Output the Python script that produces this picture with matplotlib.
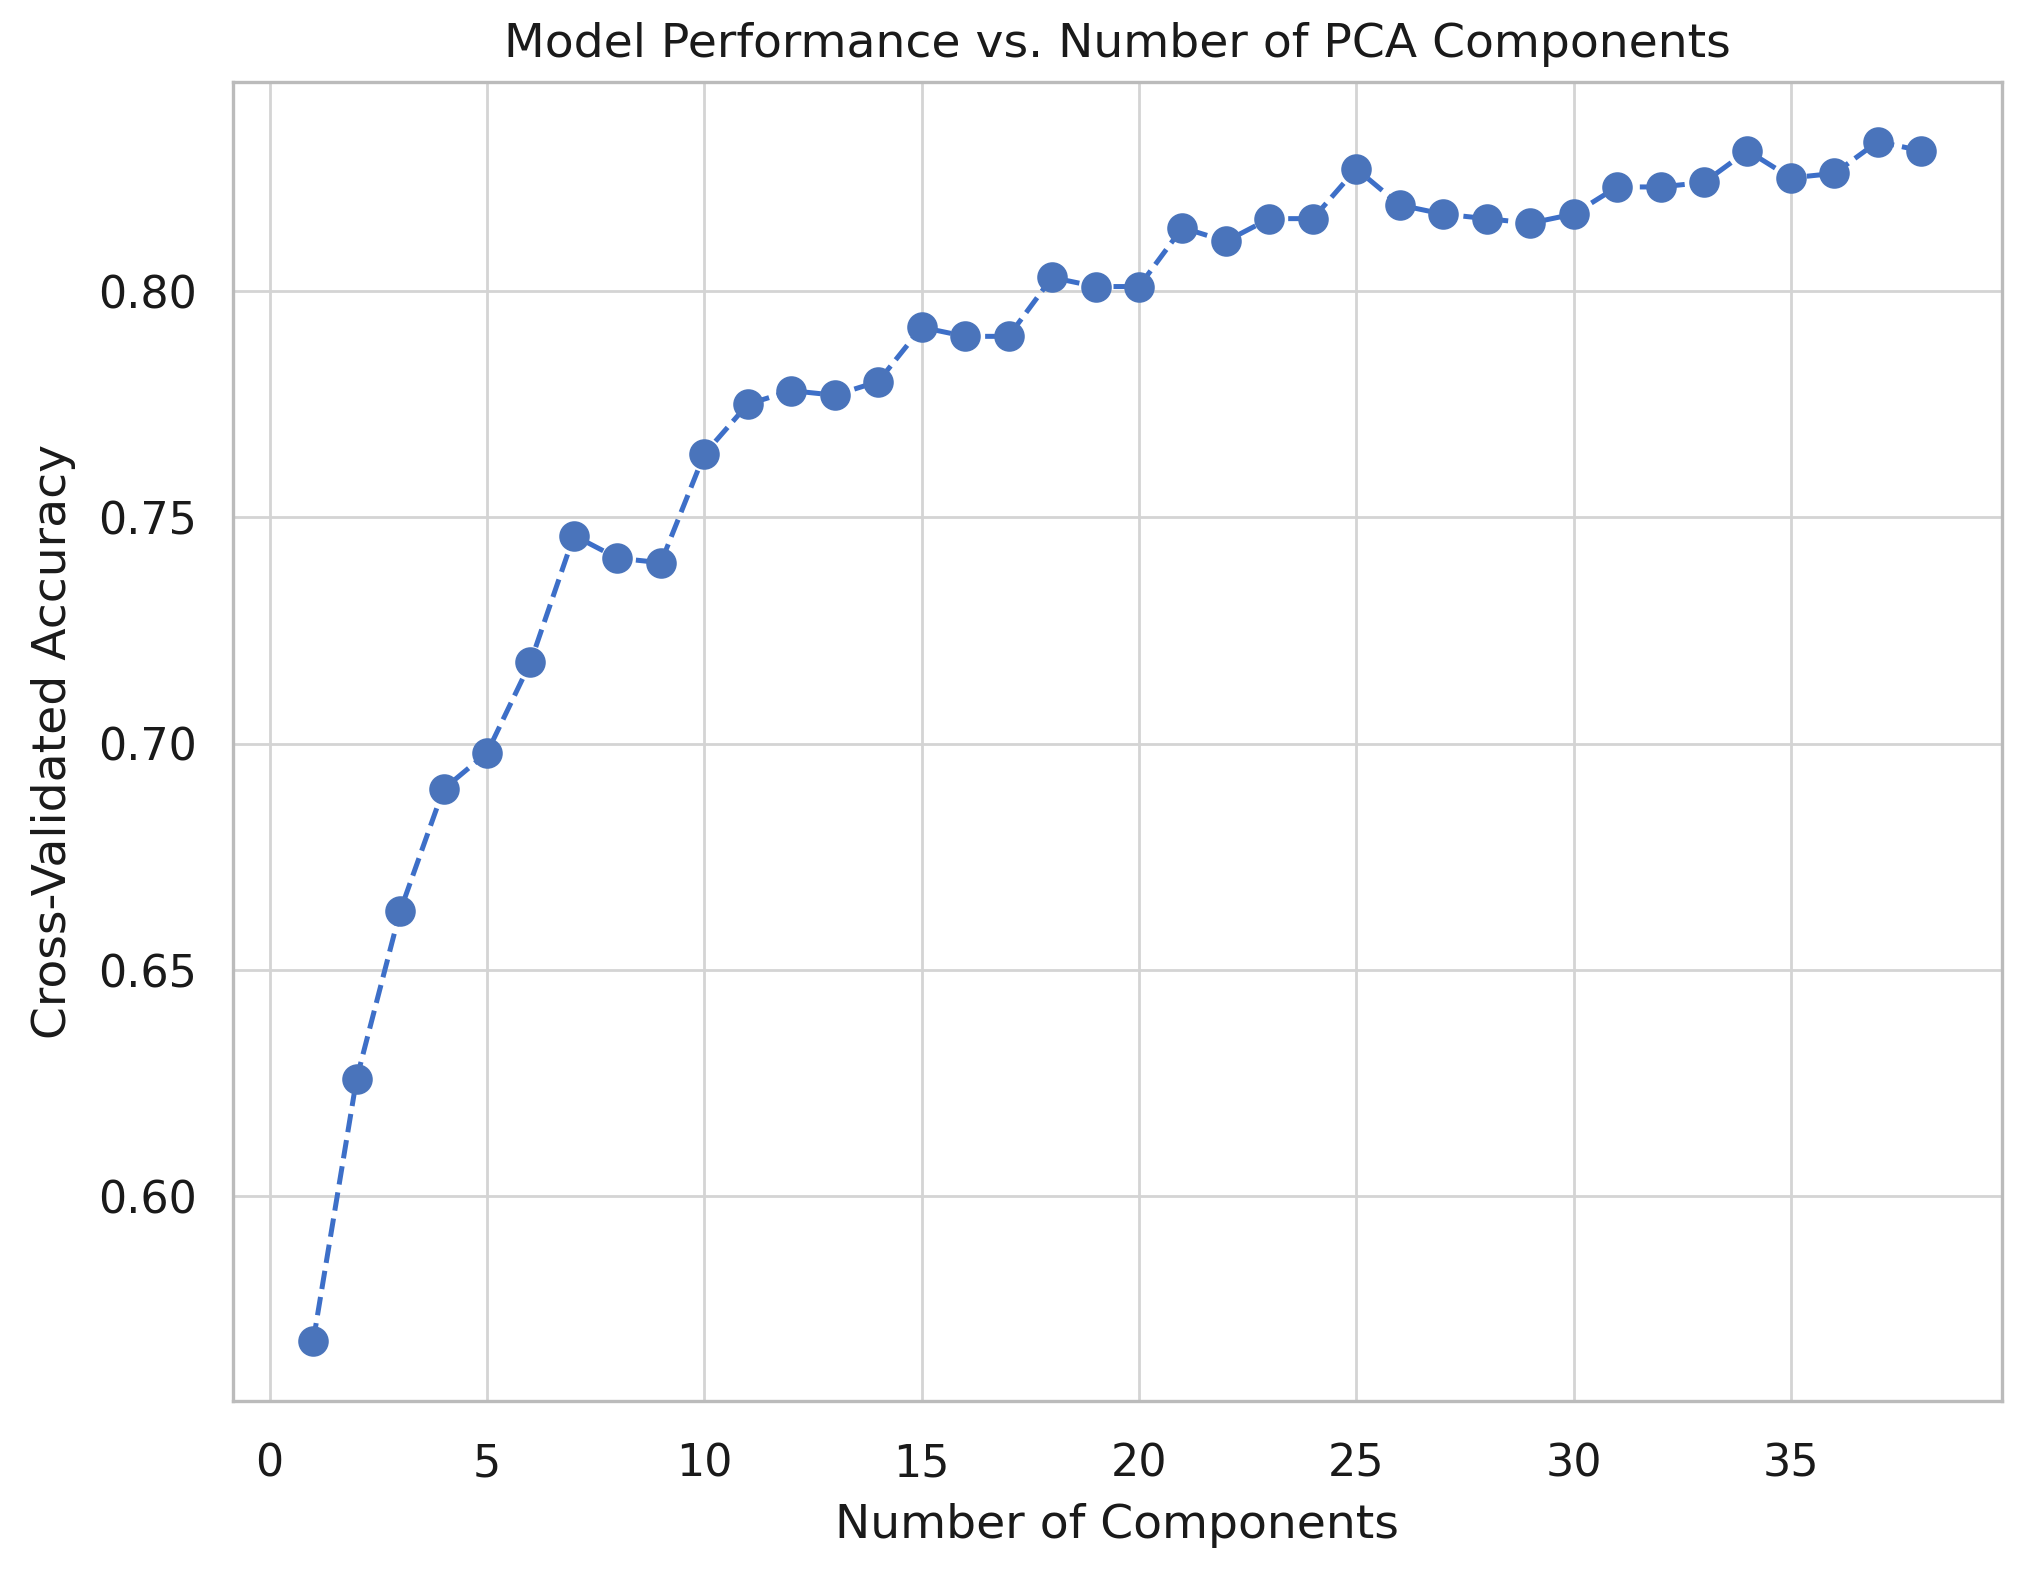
import numpy as np
import matplotlib
matplotlib.use("Agg")
import matplotlib.pyplot as plt
import seaborn as sns

# cross-validated accuracy per number of PCA components
n_components = list(range(1, 39))
accuracy = [0.568, 0.626, 0.663, 0.690, 0.698, 0.718, 0.746, 0.741, 0.740, 0.764,
            0.775, 0.778, 0.777, 0.780, 0.792, 0.790, 0.790, 0.803, 0.801, 0.801,
            0.814, 0.811, 0.816, 0.816, 0.827, 0.819, 0.817, 0.816, 0.815, 0.817,
            0.823, 0.823, 0.824, 0.831, 0.825, 0.826, 0.833, 0.831]

sns.set_theme(style="whitegrid")
plt.rcParams['font.family'] = ['DejaVu Sans']
plt.rcParams['text.color'] = '#1a1a1a'
plt.rcParams['axes.labelcolor'] = '#1a1a1a'
plt.rcParams['xtick.color'] = '#1a1a1a'
plt.rcParams['ytick.color'] = '#1a1a1a'

fig = plt.figure(figsize=(10.12, 7.855), dpi=200)
ax = fig.add_axes([0.115, 0.108, 0.874, 0.840])

ax.plot(n_components, accuracy, linestyle='--', color='#3d6fc8', linewidth=1.8,
        marker='o', markersize=10, markerfacecolor='#4a74bb', markeredgecolor='#4a74bb')

ax.set_xticks([0, 5, 10, 15, 20, 25, 30, 35])
ax.set_yticks([0.60, 0.65, 0.70, 0.75, 0.80])
ax.set_yticklabels(["0.60", "0.65", "0.70", "0.75", "0.80"])
ax.tick_params(axis='y', labelsize=16, pad=7)
ax.tick_params(axis='x', labelsize=16, pad=9)

ax.set_title("Model Performance vs. Number of PCA Components", fontsize=17, pad=9)
ax.set_xlabel("Number of Components", fontsize=17, labelpad=6)
ax.set_ylabel("Cross-Validated Accuracy", fontsize=17, labelpad=8)

for s in ax.spines.values():
    s.set_color('#bbbbbb')
    s.set_linewidth(1.2)
ax.grid(color='#d4d4d4', linewidth=1.0)

fig.savefig("out.png", dpi=200)
